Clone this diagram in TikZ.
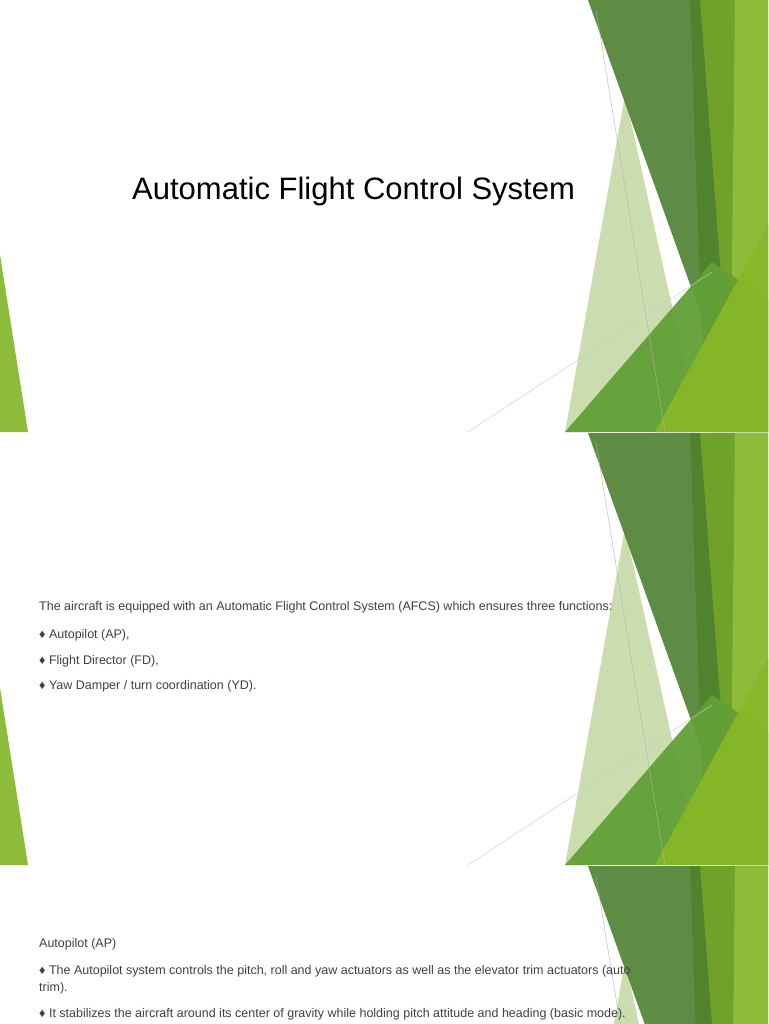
\documentclass[tikz,border=0pt]{standalone}
\usepackage{fontspec}
\setmainfont{Liberation Sans}
\definecolor{dg}{HTML}{4E8030}
\definecolor{mg}{HTML}{70A22A}
\definecolor{lg}{HTML}{8DBB3A}
\definecolor{pg}{HTML}{C6DAA6}
\definecolor{bg}{HTML}{62A036}
\definecolor{yg}{HTML}{86B827}
\definecolor{tx}{HTML}{404040}
\tikzset{body/.style={anchor=base west,text=tx,font=\fontsize{12.5}{15}\selectfont,inner sep=0pt}}
\newcommand{\deco}[1]{%
\begin{scope}[shift={(0,#1)}]
\fill[mg] (690,0) -- (768,0) -- (768,432) -- (705,432) -- cycle;
\fill[lg] (735,0) -- (768,0) -- (768,432) -- (730,432) -- cycle;
\fill[pg,opacity=.9] (625,95) -- (700,432) -- (565,432) -- cycle;
\fill[dg,opacity=.9] (588,0) -- (700,0) -- (722,290) -- (710,340) -- cycle;
\fill[bg,opacity=.95] (565,432) -- (712,262) -- (768,300) -- (768,432) -- cycle;
\fill[yg,opacity=.95] (655,432) -- (768,225) -- (768,432) -- cycle;
\draw[gray!60,line width=.4] (596,10) -- (665,432);
\draw[gray!40,line width=.4] (468,432) -- (712,272);
\fill[lg] (0,255) -- (28,432) -- (0,432) -- cycle;
\end{scope}}
\begin{document}
\begin{tikzpicture}[x=1pt,y=-1pt]
\useasboundingbox (0,0) rectangle (768,1024);
\fill[white] (0,0) rectangle (768,1024);
\begin{scope}
\clip (0,0) rectangle (768,1024);
\deco{0}\deco{433}\deco{866}
\end{scope}
\node[anchor=base west,inner sep=0pt,font=\fontsize{31}{36}\selectfont] (title) at (132,200) {Automatic Flight Control System};
\node[body] (l1) at (39,610) {The aircraft is equipped with an Automatic Flight Control System (AFCS) which ensures three functions:};
\node[body] (l2) at (39,638) {♦ Autopilot (AP),};
\node[body] (l3) at (39,664) {♦ Flight Director (FD),};
\node[body] (l4) at (39,689) {♦ Yaw Damper / turn coordination (YD).};
\node[body] (m1) at (39,947) {Autopilot (AP)};
\node[body] (m2) at (39,974) {♦ The Autopilot system controls the pitch, roll and yaw actuators as well as the elevator trim actuators (auto};
\node[body] (m3) at (39,991) {trim).};
\node[body] (m4) at (39,1017) {♦ It stabilizes the aircraft around its center of gravity while holding pitch attitude and heading (basic mode).};
\end{tikzpicture}
\end{document}
